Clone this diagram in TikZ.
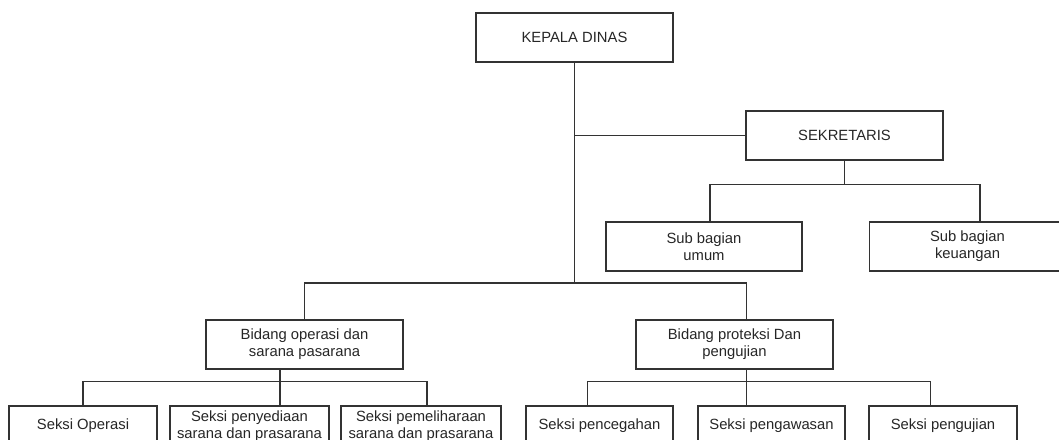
\documentclass[tikz,border=0pt]{standalone}
\usepackage{fontspec}
\setmainfont{Liberation Sans}
\usetikzlibrary{positioning,calc}

\begin{document}
\begin{tikzpicture}[x=1pt,y=1pt,
%defines
office/.style={rectangle,draw=black!80,line width=1.2pt,text=black!85,
minimum width=197pt,minimum height=49pt,inner sep=2pt,outer sep=0pt,
align=center,font=\fontsize{14.8}{17}\selectfont},
section/.style={office,minimum width=148pt,minimum height=40pt},
link/.style={draw=black!80,line width=1.2pt}]
\clip (0,0) rectangle (1059,-439);
% upper levels
\node[office] (kepala dinas) at (574.5,-37.5) {KEPALA DINAS};
\node[office] (sekretaris) at (844.5,-135.5) {SEKRETARIS};
\node[office,minimum width=196pt] (sub umum) at (704,-246.5) {Sub bagian\\umum};
\node[office,minimum width=196pt] (sub keuangan) at (967.5,-246.5) {Sub bagian\\keuangan};
\node[office] (bidang operasi) at (304.5,-344.5) {Bidang operasi dan\\sarana pasarana};
\node[office] (bidang proteksi) at (734.5,-344.5) {Bidang proteksi Dan\\pengujian};
% seksi row
\node[section] (seksi operasi) at (83,-426) {Seksi Operasi};
\node[section,minimum width=159pt] (seksi penyediaan) [right=13pt of seksi operasi] {Seksi penyediaan\\sarana dan prasarana};
\node[section,minimum width=160pt] (seksi pemeliharaan) [right=12pt of seksi penyediaan] {Seksi pemeliharaan\\sarana dan prasarana};
\node[section,minimum width=147pt] (seksi pencegahan) [right=25pt of seksi pemeliharaan] {Seksi pencegahan};
\node[section,minimum width=147pt] (seksi pengawasan) [right=25pt of seksi pencegahan] {Seksi pengawasan};
\node[section] (seksi pengujian) [right=24pt of seksi pengawasan] {Seksi pengujian};
% lines
\coordinate (hub) at (574.5,-283);
\coordinate (sekretaris bus) at (844.5,-184.3);
\coordinate (operasi bus) at (280,-381.7);
\coordinate (proteksi bus) at (746.5,-381.7);
\draw[link] (kepala dinas.south) -- (hub);
\draw[link] (kepala dinas.south |- sekretaris.west) -- (sekretaris.west);
\draw[link] ([xshift=12pt]bidang proteksi.north) |- (hub) -| (bidang operasi.north);
\draw[link] (sekretaris.south) -- (sekretaris bus);
\draw[link] ([xshift=6pt]sub umum.north) |- (sekretaris bus) -| ([xshift=12.5pt]sub keuangan.north);
\draw[link] (bidang operasi.south -| operasi bus) -- (operasi bus);
\draw[link] (seksi operasi.north) |- (operasi bus) -| ([xshift=6pt]seksi pemeliharaan.north);
\draw[link] (seksi penyediaan.north -| operasi bus) -- (operasi bus);
\draw[link] (bidang proteksi.south -| proteksi bus) -- (proteksi bus);
\draw[link] ([xshift=-12pt]seksi pencegahan.north) |- (proteksi bus) -| ([xshift=-12.5pt]seksi pengujian.north);
\draw[link] (seksi pengawasan.north -| proteksi bus) -- (proteksi bus);
\end{tikzpicture}
\end{document}
